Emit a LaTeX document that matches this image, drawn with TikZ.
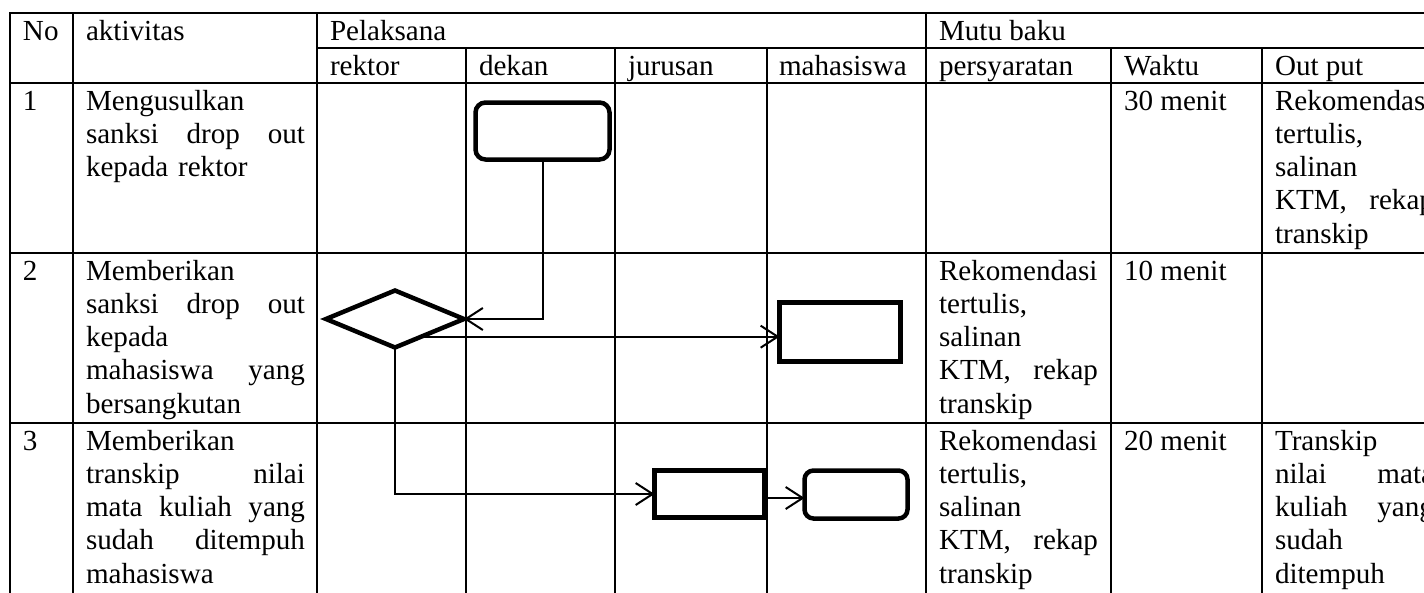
\documentclass[tikz,border=0pt]{standalone}
\usepackage{fontspec}
\setmainfont{Liberation Serif}
\usetikzlibrary{shapes.geometric,arrows.meta,calc}
\newcommand\jA[1]{\leavevmode\hbox to 219pt{#1}}
\newcommand\jB[1]{\leavevmode\hbox to 159pt{#1}}
\tikzset{
  gridline/.style={line width=2.2pt, line cap=rect},
  txt/.style={anchor=base west, inner sep=0pt, outer sep=0pt},
  colA/.style={txt, text width=219pt, align=left},
  colB/.style={txt, text width=159pt, align=left},
  shp/.style={draw, line width=4.5pt, fill=white, inner sep=0pt, outer sep=0pt},
  rshp/.style={shp, rounded corners=10pt},
  conn/.style={line width=2pt, -{Straight Barb[length=17pt,width=22pt]}},
}
\begin{document}
\begin{tikzpicture}[x=1pt,y=-1pt,font=\fontsize{29.1}{33.25}\selectfont]
\useasboundingbox (0,0) rectangle (1424,592);
\clip (0,0) rectangle (1424,592);
\fill[white] (0,0) rectangle (1424,592);
% table grid
\draw[gridline] (10,13) -- (1440,13);
\draw[gridline] (317,48) -- (1440,48);
\draw[gridline] (10,83) -- (1440,83);
\draw[gridline] (10,253) -- (1440,253);
\draw[gridline] (10,423) -- (1440,423);
\foreach \x in {10,73,317,926} \draw[gridline] (\x,13) -- (\x,610);
\foreach \x in {466,615,767,1111,1262} \draw[gridline] (\x,48) -- (\x,610);
% header texts
\node[txt] (hno) at (23,40) {No};
\node[txt] (hakt) at (86,40) {aktivitas};
\node[txt] (hpel) at (330,40) {Pelaksana};
\node[txt] (hmutu) at (939,40) {Mutu baku};
\node[txt] (hrek) at (330,75) {rektor};
\node[txt] (hdek) at (479,75) {dekan};
\node[txt] (hjur) at (628,75) {jurusan};
\node[txt] (hmhs) at (779,75) {mahasiswa};
\node[txt] (hsyr) at (939,75) {persyaratan};
\node[txt] (hwkt) at (1124,75) {Waktu};
\node[txt] (hout) at (1275,75) {Out put};
% row 1
\node[txt] (n1) at (23,110) {1};
\node[colA] (a1) at (86,110) {Mengusulkan\\\jA{sanksi\hfill drop\hfill out}\\kepada rektor};
\node[txt] (w1) at (1124,110) {30 menit};
\node[colB] (o1) at (1275,110) {Rekomendasi\\tertulis,\\salinan\\\jB{KTM,\hfill rekap}\\transkip};
% row 2
\node[txt] (n2) at (23,280) {2};
\node[colA] (a2) at (86,280) {Memberikan\\\jA{sanksi\hfill drop\hfill out}\\kepada\\\jA{mahasiswa\hfill yang}\\bersangkutan};
\node[colB] (s2) at (939,280) {Rekomendasi\\tertulis,\\salinan\\\jB{KTM,\hfill rekap}\\transkip};
\node[txt] (w2) at (1124,280) {10 menit};
% row 3
\node[txt] (n3) at (23,450) {3};
\node[colA] (a3) at (86,450) {Memberikan\\\jA{transkip\hfill nilai}\\\jA{mata\hfill kuliah\hfill yang}\\\jA{sudah\hfill ditempuh}\\mahasiswa};
\node[colB] (s3) at (939,450) {Rekomendasi\\tertulis,\\salinan\\\jB{KTM,\hfill rekap}\\transkip};
\node[txt] (w3) at (1124,450) {20 menit};
\node[colB] (o3) at (1275,450) {Transkip\\\jB{nilai\hfill mata}\\\jB{kuliah\hfill yang}\\sudah\\ditempuh};
% flow shapes
\node[rshp, minimum width=134pt, minimum height=57pt] (r1) at (542.5,131) {};
\node[shp, diamond, minimum width=138pt, minimum height=57pt] (dia) at (395,319) {};
\node[shp, minimum width=121pt, minimum height=59pt] (m2) at (840,332) {};
\node[shp, minimum width=110pt, minimum height=47pt] (j3) at (709.5,494) {};
\node[rshp, rounded corners=9pt, minimum width=103pt, minimum height=48pt] (m3) at (856,494.5) {};
% connectors
\draw[conn] (r1.south) -- (r1.south |- dia.east) -- (dia.east);
\coordinate (d2) at ($(dia.east)!0.62!(dia.south)$);
\draw[conn] (d2) -- (d2 -| m2.west);
\draw[conn] (dia.south) |- (j3.west);
\coordinate (j3o) at ([yshift=-4pt]j3.east);
\draw[conn] (j3o) -- (j3o -| m3.west);
\end{tikzpicture}
\end{document}
